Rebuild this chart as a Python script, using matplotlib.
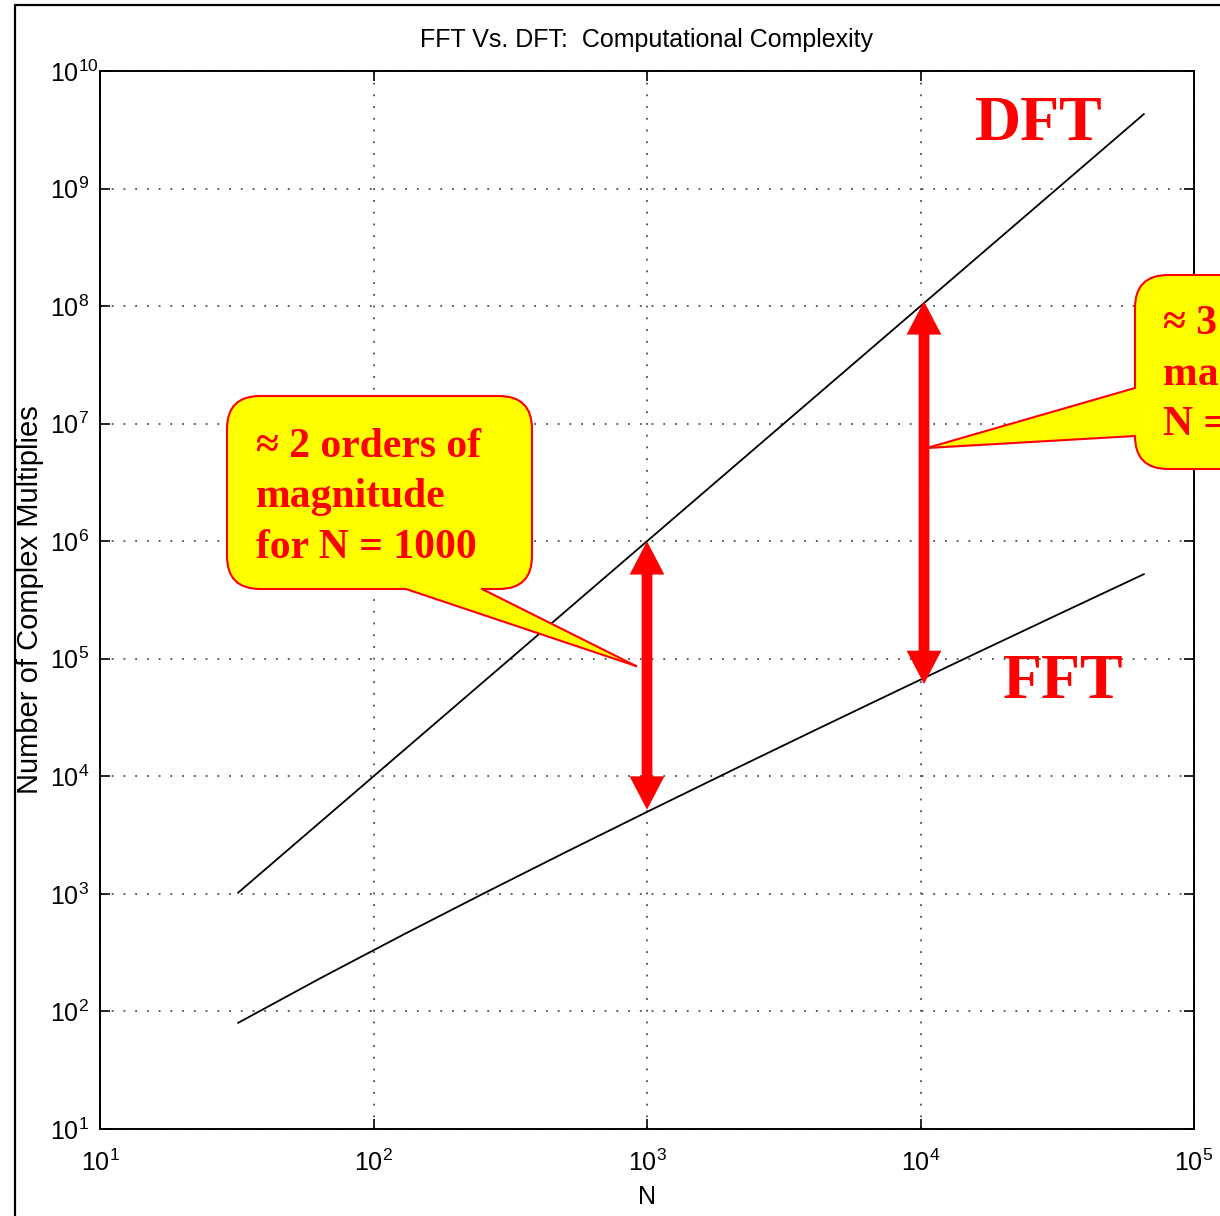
import numpy as np
import matplotlib
matplotlib.use("Agg")
import matplotlib.pyplot as plt
import matplotlib.transforms as mtransforms
from matplotlib.patches import FancyBboxPatch, Polygon, FancyArrowPatch
from matplotlib.lines import Line2D

# data: number of complex multiplies for N = 2^5 .. 2^16
N = [32, 64, 128, 256, 512, 1024, 2048, 4096, 8192, 16384, 32768, 65536]
dft_mults = [1024, 4096, 16384, 65536, 262144, 1048576, 4194304, 16777216,
             67108864, 268435456, 1073741824, 4294967296]
fft_mults = [80, 192, 448, 1024, 2304, 5120, 11264, 24576, 53248, 114688,
             245760, 524288]

# red double arrows marking the gap
arrow_n = [1000, 10300]
arrow_low = [5.2e3, 6.1e4]
arrow_high = [1.0e6, 1.1e8]

title = "FFT Vs. DFT:  Computational Complexity"
callout_lines = [["\u2248 2 orders of", "magnitude", "for N = 1000"],
                 ["\u2248 3 orders of", "magnitude for", "N = 10000"]]

plt.rcParams['font.family'] = ['Liberation Sans', 'DejaVu Sans']
plt.rcParams['mathtext.default'] = 'regular'
serif = ['Liberation Serif', 'DejaVu Serif']

W, H = 1220, 1216
fig = plt.figure(figsize=(W / 100, H / 100), dpi=100)
px = mtransforms.Affine2D().scale(1 / W, -1 / H).translate(0, 1) + fig.transFigure  # pixel coords, origin top-left

ax = fig.add_axes([100 / W, 1 - 1129 / H, 1094 / W, 1058 / H])
ax.set_xscale('log')
ax.set_yscale('log')
ax.plot(N, dft_mults, color='black', lw=1.3)
ax.plot(N, fft_mults, color='black', lw=1.3)
ax.set_xlim(10, 1e5)
ax.set_ylim(10, 1e10)
ax.set_xticks([10.0 ** k for k in range(1, 6)])
ax.set_yticks([10.0 ** k for k in range(1, 11)])
ax.minorticks_off()
ax.tick_params(direction='in', top=True, right=True, length=7, width=1.2,
               labelsize=18)
ax.tick_params(axis='x', pad=15)
ax.tick_params(axis='y', pad=36)
for lab in ax.get_yticklabels():
    lab.set_horizontalalignment('left')
ax.grid(True, which='major', linestyle=(0, (1, 5.5)), color='0.3', lw=1.3)
for sp in ax.spines.values():
    sp.set_linewidth(1.4)
ax.set_title(title, fontsize=18, pad=17)
ax.set_xlabel("N", fontsize=18, labelpad=6)
ax.set_ylabel("Number of Complex Multiplies", fontsize=21, labelpad=4)

# double-headed arrows: a solid shaft plus one head at each end
for n, lo, hi in zip(arrow_n, arrow_low, arrow_high):
    mid = np.sqrt(lo * hi)
    ax.plot([n, n], [lo * 1.6, hi / 1.6], color='red', lw=7.5,
            solid_capstyle='butt', zorder=6)
    for start, end in ((mid, lo), (mid, hi)):
        ax.add_patch(FancyArrowPatch((n, start), (n, end),
                     arrowstyle='simple,head_length=24,head_width=25,tail_width=7.5',
                     mutation_scale=1, color='red', lw=0, shrinkA=0, shrinkB=0,
                     zorder=6))

ax.text(975, 140, "DFT", transform=px, color='red', fontsize=46, fontweight='bold',
        family=serif, va='baseline')
ax.text(1003, 698, "FFT", transform=px, color='red', fontsize=46, fontweight='bold',
        family=serif, va='baseline')


def callout(box, base, tip, lines, text_xy):
    x0, y0, x1, y1 = box
    fig.patches.append(FancyBboxPatch((x0, y0), x1 - x0, y1 - y0,
                       boxstyle='round,pad=0,rounding_size=33', transform=px,
                       facecolor='#ffff00', edgecolor='red', lw=1.5, zorder=7))
    (bx1, by1), (bx2, by2) = base
    # push the base of the tail slightly into the box so it hides the border
    dx = 0 if bx1 != bx2 else 4
    dy = 0 if by1 != by2 else -4
    fig.patches.append(Polygon([(bx1 + dx, by1 + dy), (bx1, by1), tip, (bx2, by2),
                                (bx2 + dx, by2 + dy)], closed=True, transform=px,
                               facecolor='#ffff00', edgecolor='none', zorder=8))
    for bx, by in base:
        fig.lines.append(Line2D([bx, tip[0]], [by, tip[1]], transform=px,
                                color='red', lw=1.5, zorder=9))
    for i, line in enumerate(lines):
        fig.text(text_xy[0], text_xy[1] + i * 50.5, line, transform=px, color='red',
                 fontsize=30, fontweight='bold', family=serif, va='baseline',
                 zorder=10)


callout((227, 396, 532, 589), [(406, 589), (482, 589)], (636, 666),
        callout_lines[0], (256, 457))
callout((1135, 275, 1460, 469), [(1135, 388), (1135, 436)], (927, 448),
        callout_lines[1], (1163, 334))

# outer frame of the scanned page
fig.lines.append(Line2D([15, 15, 1220], [1216, 5, 5], transform=px, color='black', lw=1.6))

fig.savefig("out.png", dpi=100, facecolor='white')
